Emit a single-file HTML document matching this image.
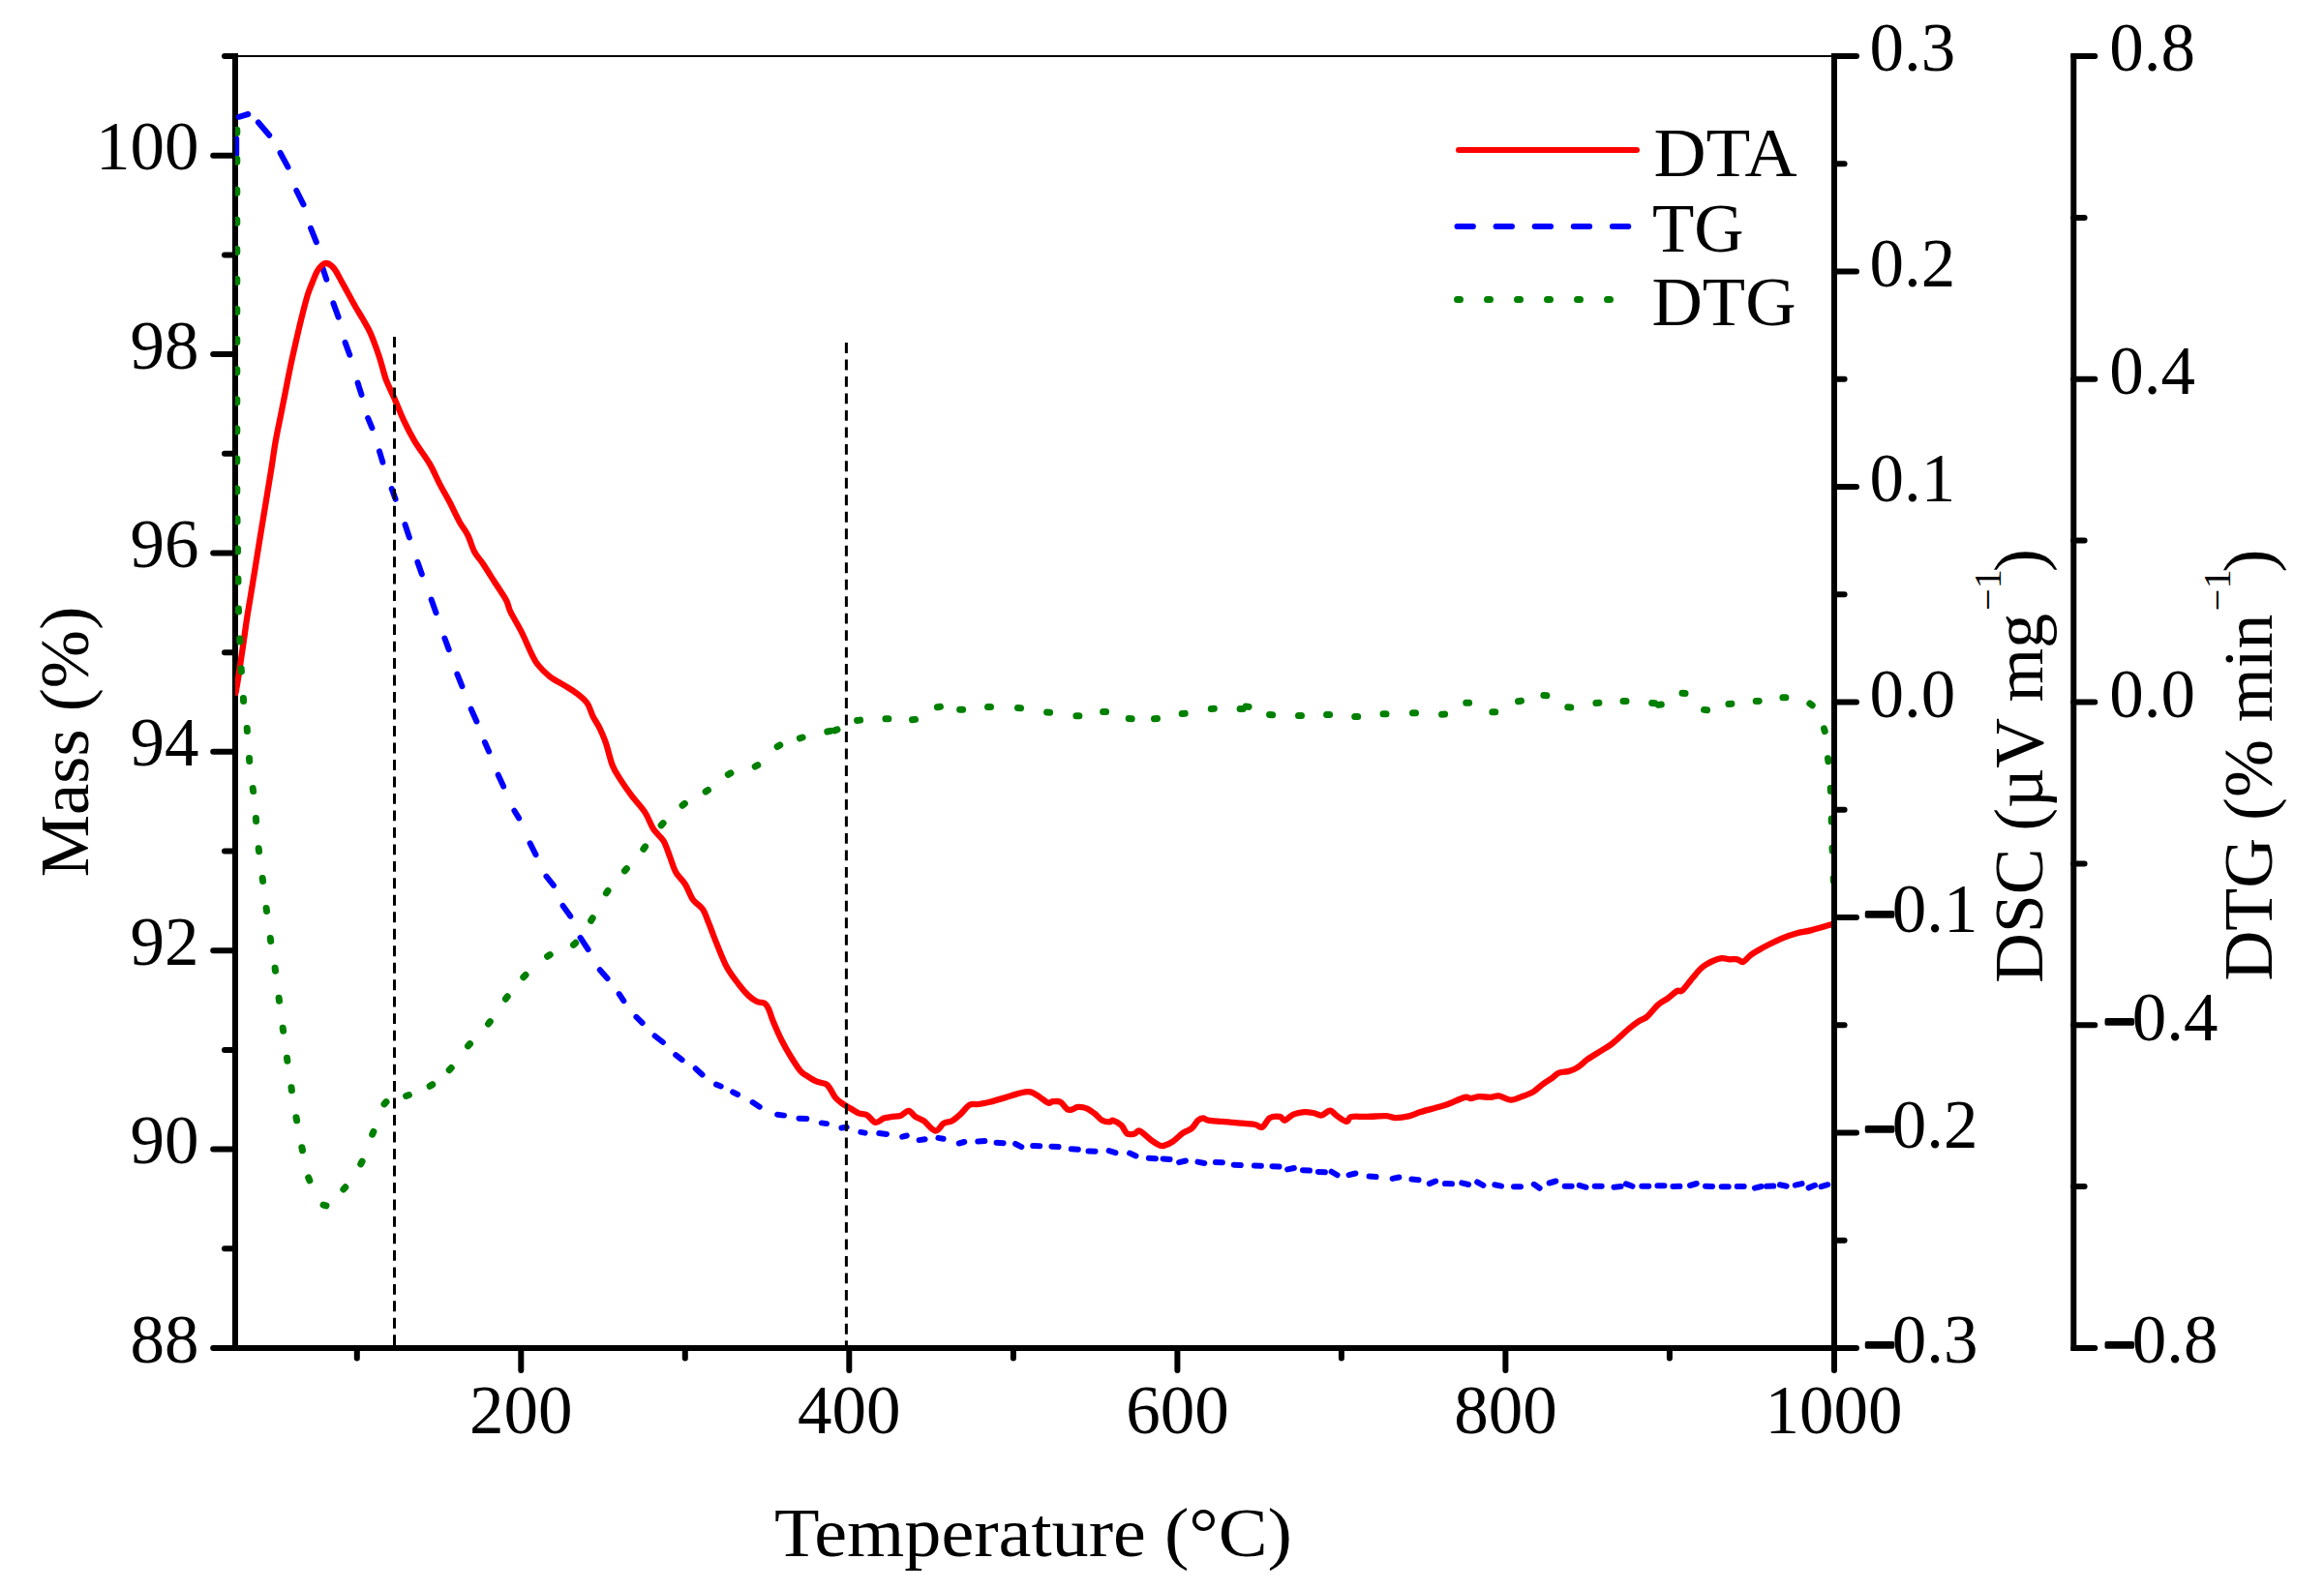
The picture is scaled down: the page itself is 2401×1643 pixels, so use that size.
<!DOCTYPE html>
<html lang="en"><head><meta charset="utf-8"><title>TG / DTG / DTA thermal analysis</title>
<style>html,body{margin:0;padding:0;background:#fff}svg{display:block}text{font-family:"Liberation Serif", serif;fill:#000}</style></head><body>
<svg width="2401" height="1643" viewBox="0 0 2401 1643">
<rect width="2401" height="1643" fill="#fff"/>
<defs><clipPath id="plot"><rect x="243" y="50" width="1655" height="1346"/></clipPath></defs>
<g stroke="#000" stroke-width="6" stroke-linecap="round" fill="none">
<path d="M220.2 1393H243M232 1290.3H243M220.2 1187.6H243M232 1084.9H243M220.2 982.2H243M232 879.5H243M220.2 776.8H243M232 674.2H243M220.2 571.5H243M232 468.8H243M220.2 366.1H243M232 263.4H243M220.2 160.7H243M232 58H243"/>
<path d="M368.8 1393V1403.6M538.3 1393V1416M707.8 1393V1403.6M877.3 1393V1416M1046.9 1393V1403.6M1216.4 1393V1416M1385.9 1393V1403.6M1555.4 1393V1416M1724.9 1393V1403.6M1895 1393V1416"/>
</g>
<path d="M243 58H1895" stroke="#000" stroke-width="2" fill="none"/>
<path d="M243 55V1393H1898" stroke="#000" stroke-width="6" fill="none" stroke-linejoin="miter"/>
<g clip-path="url(#plot)" fill="none" stroke-linecap="round" stroke-linejoin="round">
<path stroke="#0000ff" stroke-width="6" d="M244.2 159.5L244.2 143.5M246.8 120.8L256.3 118M266.9 126.5L278.2 139.7M289.6 158L297.5 172.7M306.3 197L313.5 211.4M321.1 235.8L326.8 250.1M332.7 274.9L337.3 288.7M344.4 313.4L349.6 327.6M356.6 353.9L361.3 366.7M369.6 395.6L373.5 407.9M380.2 432.1L384.4 442.2M392 466.3L395.4 477.7M404.7 505L408.6 515.8M418.5 542L422.9 555.4M431.4 580.8L435.8 593.3M445.6 619.6L450.5 633.2M459.4 659.5L463.7 671.1M472.4 696.6L477.4 709.1M486.7 732.7L492.4 745.4M500.9 767.1L505.1 776.4M514.7 800.7L520.1 812.6M531.4 837.7L536.1 845.4M547.6 871.4L553.5 883.2M564.5 905.7L571.9 914.9M581.6 936L589.3 946.7M599.6 968.9L607.6 981.1M619.8 1002.3L627.5 1011.1M639.7 1027.1L644.3 1034.2M657.4 1050.9L663.6 1057M676.6 1070.5L684.9 1077M698.2 1090.2L704.6 1095.2M718.7 1104.2L725.5 1110.5M740 1120.6L744.7 1122.5M757.1 1128.5L762.1 1131M777.6 1139.1L784.7 1143.7M803.1 1151.7L810 1152.6M825.5 1155.7L833.3 1156M848.8 1160.4L854 1161.1M869.4 1165.5L874.7 1164.7M889.3 1169.9L893.6 1170.6M908.2 1171L916 1171.9M932.2 1174.7L936.8 1173.5M949.6 1178.1L955.6 1177.2M969.4 1175.9L974.6 1176.7M990.8 1181.5L996.3 1180M1010.3 1179.6L1017.3 1179M1029.6 1180.8L1036.6 1181.2M1049.1 1182L1055.3 1185.2M1067.2 1184L1074.2 1184.2M1086.5 1184.7L1093.5 1185.1M1106.8 1187.2L1113.8 1187.8M1124.5 1189.5L1131.5 1189.7M1145.7 1189.1L1152.5 1191.1M1167.1 1191.6L1173.5 1194.4M1186.9 1196.7L1193.9 1197.3M1201.6 1197.4L1208.6 1198M1218.1 1201.1L1224.9 1199.5M1237.5 1200.6L1244.3 1202M1255.9 1201L1262.9 1201.2M1274.8 1203.7L1281.8 1204.1M1295.9 1204.5L1302.9 1204.7M1314.5 1205.2L1321.5 1205.6M1330.1 1208.4L1336.9 1207M1346 1209.2L1353 1209.6M1361.9 1210.9L1368.9 1211.3M1375.6 1210.7L1381.6 1214.3M1393.6 1214.1L1400.4 1212.5M1414.6 1215.6L1421.6 1216M1438.6 1217.9L1445.4 1216.5M1458.5 1218.6L1465.5 1219.2M1476.8 1223.1L1483.2 1220.5M1493 1223.1L1500 1223.3M1510.3 1222.4L1517.1 1224M1526.2 1221.5L1532.4 1224.9M1544.3 1224.2L1551.1 1225.6M1564 1226.3L1571 1226.3M1584.8 1223.8L1590.6 1227.8M1600.6 1222.5L1607.4 1220.5M1616.7 1225.8L1623.7 1225.8M1631.7 1224.8L1638.5 1226.8M1647.7 1225.8L1654.7 1225.8M1667.5 1226.7L1674.5 1226.1M1679.9 1223.4L1686.5 1225.8M1696.3 1225.8L1703.3 1225.8M1712.4 1225.2L1719.4 1225.2M1728.4 1226L1735.4 1225.8M1746 1225L1752.8 1223M1762 1225.7L1769 1225.9M1778.7 1226.2L1785.7 1226.2M1794.7 1226.1L1801.7 1226.1M1812.9 1227.6L1819.7 1226M1825.2 1225.8L1832.2 1225.6M1838.9 1224.3L1845.7 1225.7M1854.8 1224.7L1861.6 1223.1M1868.6 1227.4L1875 1224.8M1881.5 1226.2L1888.3 1224.2"/>
<path stroke="#ff0000" stroke-width="6.3" d="M243.5 716C244 713.1 245.1 707.5 246.4 698.9C247.7 690.3 249.9 675.3 251.5 664.5C253.1 653.7 254 646 255.9 634C257.8 622 260.6 605.9 262.7 592.7C264.8 579.5 266.9 566.2 268.8 554.7C270.7 543.2 272 535.5 273.9 523.7C275.8 511.9 278.6 495.3 280.4 484C282.2 472.7 283.1 465 284.7 456.1C286.2 447.2 288 439.3 289.7 430.9C291.4 422.5 293 414.2 294.7 405.8C296.4 397.4 297.9 389 299.7 380.6C301.4 372.2 303.3 363.9 305.2 355.5C307.1 347.1 309 338.7 311.1 330.3C313.2 321.9 315.8 311.5 317.7 305.2C319.6 298.9 320.8 296.7 322.4 292.6C324 288.5 325.9 283.6 327.6 280.5C329.3 277.4 331 275.4 332.6 274C334.2 272.6 335.4 271.9 337 272C338.6 272.1 340.4 273 342 274.3C343.6 275.6 344.9 276.9 346.9 280C348.9 283.1 351.5 288.4 353.8 292.6C356.1 296.8 358.5 301 360.8 305.2C363.1 309.4 365.3 313.5 367.7 317.7C370.1 321.9 372.8 326.1 375.2 330.3C377.6 334.5 380.1 338.7 382.1 342.9C384.1 347.1 385.6 351.3 387.2 355.5C388.8 359.7 390.2 363.9 391.6 368.1C393 372.3 394.1 376.4 395.3 380.6C396.6 384.8 397.1 388 399.1 393.2C401.1 398.4 404.5 404.9 407.5 411.7C410.5 418.5 413.6 426.8 417 434.1C420.4 441.4 423.8 448.1 428.2 455.6C432.6 463.1 439.4 471.6 443.7 478.9C448 486.2 450.6 493 454 499.6C457.4 506.2 460.9 512 464.4 518.6C467.8 525.2 471.5 533.5 474.7 539.2C477.9 544.9 480.7 547.8 483.3 553C485.9 558.2 487.6 565.4 490.2 570.3C492.8 575.2 495.4 577.1 498.8 582.3C502.2 587.5 506.9 595 510.9 601.3C514.9 607.6 520.3 615.1 523 620.2C525.7 625.3 524.7 626.6 527.3 632C529.9 637.4 534.9 645.3 538.5 652.4C542.1 659.5 545.9 669 548.8 674.8C551.7 680.5 552.5 682.9 555.7 686.9C558.9 690.9 563.2 695.3 567.8 698.9C572.4 702.5 578.7 705.5 583.3 708.4C587.9 711.3 591.5 713.2 595.4 716.2C599.3 719.2 603.7 722.5 606.6 726.5C609.5 730.5 610.5 736 612.6 740.3C614.8 744.6 617.3 747.8 619.5 752.4C621.7 757 623.8 761.5 626 768C628.2 774.5 630.4 785.1 632.9 791.3C635.4 797.5 637.4 799.9 640.7 805.1C644 810.3 648.4 816.6 652.7 822.4C657 828.1 662.8 833.9 666.5 839.6C670.2 845.3 671.9 851.9 675.1 856.8C678.3 861.7 682.6 864 685.5 868.9C688.4 873.8 690.2 880.6 692.4 886.1C694.5 891.6 695.8 897 698.4 901.6C701 906.2 705 909.1 707.9 913.7C710.8 918.3 712.6 924.9 715.6 929.2C718.6 933.5 723.3 935.6 726 939.6C728.7 943.6 730.2 949.1 732 953.3C733.8 957.5 735.1 961.3 736.5 965C737.9 968.7 738.2 969.7 740.6 975.5C743 981.3 747.3 992.7 751 999.6C754.7 1006.5 759.3 1012 763 1016.9C766.7 1021.8 770.2 1025.9 773.4 1028.9C776.6 1031.9 779.3 1033.7 782 1035C784.7 1036.3 787.8 1035.4 789.8 1036.7C791.8 1038 792.5 1039.4 794.1 1042.7C795.7 1046 796.9 1051 799.2 1056.5C801.5 1062 804.9 1069.8 807.8 1075.5C810.7 1081.2 813.3 1085.8 816.5 1091C819.7 1096.2 823.9 1103 826.8 1106.5C829.7 1110 830.8 1109.8 833.7 1111.7C836.6 1113.6 840.7 1116.3 844 1117.7C847.3 1119.1 851.2 1119 853.5 1120.3C855.8 1121.6 856.2 1123.1 857.8 1125.4C859.4 1127.7 861 1131.6 863 1134.1C865 1136.5 867.3 1138.2 869.9 1140.1C872.5 1142 875.6 1143.6 878.5 1145.3C881.4 1147 884.2 1149.2 887.1 1150.4C890 1151.6 892.8 1150.6 895.7 1152.2C898.6 1153.8 901.5 1159.3 904.4 1159.9C907.3 1160.5 910.1 1156.6 913 1155.6C915.9 1154.6 918.7 1154.3 921.6 1153.9C924.5 1153.5 927.3 1154 930.2 1153C933.1 1152 936.2 1147.6 938.8 1147.8C941.4 1148 943.1 1152.2 945.7 1153.9C948.3 1155.6 950.8 1155.8 954.3 1158.2C957.8 1160.6 962.9 1168.1 966.4 1168.5C969.9 1168.9 972.1 1162.5 975 1160.8C977.9 1159.1 980.7 1159.8 983.6 1158.2C986.5 1156.6 989.3 1154 992.3 1151.3C995.3 1148.6 998.6 1143.5 1001.7 1141.8C1004.9 1140.1 1007.8 1141.5 1011.2 1141C1014.7 1140.5 1017.9 1139.9 1022.4 1138.8C1026.8 1137.7 1032.7 1135.9 1037.9 1134.4C1043.1 1132.9 1049 1130.6 1053.4 1129.6C1057.9 1128.6 1061.1 1127.7 1064.6 1128.4C1068 1129.1 1071.1 1131.7 1074.1 1133.6C1077.1 1135.5 1080.4 1138.8 1082.7 1139.6C1085 1140.4 1085.8 1138.3 1087.9 1138.2C1090.1 1138.1 1093.2 1137.5 1095.6 1138.8C1098 1140.1 1100.5 1144.9 1102.5 1146.2C1104.5 1147.5 1105.8 1146.9 1107.7 1146.5C1109.6 1146.1 1111.1 1144.1 1113.7 1143.9C1116.3 1143.8 1120.3 1144.4 1123.2 1145.6C1126.1 1146.8 1128.4 1148.8 1131 1150.8C1133.6 1152.8 1136.1 1156.3 1138.7 1157.7C1141.3 1159.1 1144.6 1159.4 1146.5 1159.4C1148.4 1159.4 1147.9 1157.1 1149.9 1157.7C1151.9 1158.3 1156.1 1160.6 1158.6 1162.9C1161 1165.2 1162.3 1170.1 1164.6 1171.5C1166.9 1172.9 1170.1 1172 1172.3 1171.5C1174.5 1171 1174.6 1167.4 1177.5 1168.6C1180.4 1169.8 1186.1 1175.9 1189.6 1178.4C1193 1180.9 1195.9 1182.7 1198.2 1183.6C1200.5 1184.5 1201.1 1184.3 1203.4 1183.6C1205.7 1182.9 1208.8 1181.5 1212 1179.3C1215.2 1177.1 1219.1 1172.8 1222.3 1170.6C1225.5 1168.4 1228.3 1168.4 1230.9 1166.3C1233.5 1164.2 1235.8 1159.5 1237.8 1157.7C1239.8 1155.9 1241.3 1155.5 1243 1155.5C1244.7 1155.5 1245 1157.1 1248.2 1157.7C1251.4 1158.3 1256.8 1158.5 1262 1158.9C1267.2 1159.3 1273.5 1159.8 1279.2 1160.3C1284.9 1160.8 1292.2 1161.3 1296.4 1162C1300.6 1162.7 1301.6 1165.8 1304.2 1164.6C1306.8 1163.4 1308.9 1156.9 1311.9 1155.1C1314.9 1153.3 1319.7 1153.5 1322.3 1153.9C1324.9 1154.3 1325.1 1158.1 1327.4 1157.7C1329.7 1157.3 1332.8 1153.1 1336.1 1151.7C1339.4 1150.3 1343.9 1149.4 1347.3 1149.1C1350.7 1148.8 1353.7 1149.4 1356.7 1150C1359.7 1150.6 1362.5 1152.9 1365.4 1152.5C1368.3 1152.1 1371.3 1147.5 1374 1147.7C1376.7 1147.9 1378.8 1151.5 1381.7 1153.4C1384.6 1155.3 1388.8 1158.8 1391.2 1158.9C1393.6 1159 1392.7 1154.8 1396.2 1154C1399.7 1153.2 1406.4 1154.1 1412.4 1153.9C1418.4 1153.8 1427.3 1152.9 1432.2 1153.1C1437.1 1153.3 1437.8 1155 1441.7 1155.1C1445.6 1155.1 1451.2 1154.4 1455.5 1153.4C1459.8 1152.4 1463 1150.5 1467.6 1149.1C1472.2 1147.7 1478.5 1146.1 1483.1 1144.8C1487.7 1143.5 1490.1 1143.1 1495.1 1141.3C1500.1 1139.5 1509.2 1135 1513.2 1133.9C1517.2 1132.9 1516.8 1135.1 1519.3 1135C1521.8 1134.9 1524.5 1133.3 1527.9 1133.1C1531.3 1132.9 1536.5 1134 1539.9 1133.9C1543.4 1133.8 1545.1 1131.9 1548.6 1132.4C1552 1132.9 1556.9 1136.5 1560.6 1136.7C1564.3 1136.9 1567.1 1135 1571 1133.6C1574.9 1132.2 1580.2 1130.6 1583.9 1128.4C1587.6 1126.2 1590.1 1123.1 1593.4 1120.7C1596.7 1118.3 1600.8 1115.8 1603.7 1113.8C1606.6 1111.8 1607.7 1109.8 1610.6 1108.6C1613.5 1107.4 1617.7 1107.8 1620.9 1106.9C1624.1 1106 1626.4 1105.1 1629.6 1103.1C1632.8 1101.1 1636.2 1097.5 1639.9 1094.8C1643.6 1092.1 1648 1089.6 1652 1087.1C1656 1084.6 1660.3 1082.3 1664 1079.6C1667.7 1076.9 1671.2 1073.5 1674.4 1070.7C1677.6 1067.9 1679.8 1065.5 1683 1062.9C1686.2 1060.3 1690.1 1057.3 1693.3 1055.2C1696.5 1053.1 1698.6 1053.2 1701.9 1050.3C1705.2 1047.4 1709.6 1041.2 1713.2 1038.1C1716.8 1034.9 1720.2 1033.7 1723.4 1031.4C1726.6 1029.1 1730 1025.4 1732.5 1024.1C1735 1022.8 1735.5 1025.6 1738.1 1023.4C1740.7 1021.2 1744.9 1015 1748.3 1011C1751.7 1007 1754.9 1002.6 1758.5 999.6C1762.1 996.6 1766.5 994.5 1769.9 992.9C1773.3 991.3 1776.1 990.4 1778.9 990.1C1781.7 989.8 1784.2 991.1 1786.8 991.3C1789.4 991.5 1792.4 990.8 1794.8 991.3C1797.2 991.8 1798.7 994.7 1800.9 994C1803.2 993.3 1805.5 989.3 1808.3 987.2C1811 985.1 1814.4 983.3 1817.4 981.5C1820.4 979.7 1822.3 978.6 1826.5 976.5C1830.7 974.4 1837.4 971.1 1842.3 969.1C1847.2 967.1 1851 965.8 1855.9 964.5C1860.8 963.2 1865.6 962.7 1871.8 961.1C1878 959.5 1889.5 956 1893 955"/>
<path stroke="#008000" stroke-width="7" d="M244.8 134.2L244.8 137.2M244.8 164.3L244.8 167.3M244.8 196.2L244.8 199.2M244.8 227.2L244.8 230.2M244.8 257.4L244.8 260.4M244.8 288.4L244.8 291.4M244.8 319.4L244.8 322.4M244.8 350.5L244.8 353.5M244.8 381.8L244.8 384.8M244.8 412.8L244.8 415.8M244.8 442.9L244.8 445.9M244.8 474L244.8 477M244.8 505L244.8 508M245 536L245.1 539M245.5 567L245.5 570M245.9 598.1L246 601.1M246.4 629L246.5 632M247.7 660L247.9 663M249.2 690.9L249.4 693.9M251.4 721.6L251.6 724.6M255.2 752.6L255.4 755.6M257.5 783.6L257.7 786.6M261.2 814.6L261.6 817.6M264.4 845.6L264.6 848.6M267.2 876.7L267.6 879.7M271.2 907.5L271.6 910.5M275.1 938.5L275.5 941.5M279.3 969.5L279.7 972.5M284.1 1000.2L284.5 1003.2M288.1 1031.2L288.5 1034.2M292.2 1062.2L292.6 1065.2M296.5 1093.2L296.9 1096.2M301 1123.8L301.4 1126.8M306 1154.8L306.6 1157.8M311.9 1185.7L312.5 1188.7M318.7 1217L319.9 1219.8M334 1245.1L337 1245.9M354.8 1229L356.8 1226.8M372.7 1202.8L374.1 1200.2M384.7 1172.2L385.9 1169.4M397 1140.9L399 1138.7M419.6 1132.5L422.4 1131.5M444.1 1122.3L446.7 1120.7M464.2 1105.7L466.2 1103.5M483.5 1080.9L485.5 1078.7M504.5 1058L506.3 1055.6M522.4 1032.2L524.2 1029.8M540.8 1009.7L543 1007.5M565.6 988.2L568.2 986.6M592.5 976.3L594.7 974.3M610.6 951.3L612.2 948.7M626.4 922.9L628 920.5M645.4 899.8L647.4 897.6M664.8 877.3L666.6 874.9M683.1 852.8L685.1 850.6M705 832.2L707.4 830.4M729.1 818L731.5 816.4M752.3 800.3L754.9 798.9M780.2 792L782.8 790.6M803.1 771.5L805.7 769.9M826.3 762.8L829.1 762M854.8 756L857.8 755.4M862.2 754.9L865 753.9M885.6 744.5L888.6 744.1M914.9 742.7L917.9 742.7M942.5 743.8L945.5 743.4M968.4 730.7L971.4 730.3M991.6 733.3L994.6 733.3M1020.5 730.4L1023.5 730.4M1051.5 731.6L1054.5 731.8M1081.6 736.1L1084.6 736.3M1111.9 739.8L1114.9 739.8M1139.6 735.4L1142.6 735.4M1166.2 742.6L1169.2 742.8M1192.5 742.8L1195.5 742.6M1221.2 737.5L1224.2 737.3M1251.3 732.5L1254.3 732.3M1281.1 732.4L1284.1 732.4M1287.1 730L1290.1 730.4M1311.6 738.5L1314.6 738.7M1341.5 739.4L1344.5 739.4M1370.6 738.6L1373.6 738.6M1399.7 740.4L1402.7 740.4M1429 737.8L1432 737.8M1459.5 736.8L1462.5 736.8M1489.6 738.3L1492.6 738.1M1514.7 726.3L1517.7 726.3M1541.8 735.8L1544.8 735.8M1568.5 724.7L1571.5 724.3M1594.9 718.5L1597.9 718.7M1619.8 730.8L1622.8 731M1648.9 726.4L1651.9 726.2M1677 724.5L1680 724.5M1706.7 726.5L1709.7 726.7M1713.3 728.4L1716.3 728M1738 716.3L1741 716.5M1760.6 733.4L1763.6 733.8M1785.9 727.4L1788.9 727.2M1814.2 724.6L1817.2 724.4M1841.9 720.8L1844.9 720.8M1869.8 727L1872.2 728.8M1884.5 752.9L1885.3 755.7M1888.5 783.7L1888.9 786.7M1891.2 814.5L1891.4 817.5M1892.2 845.9L1892.2 848.9M1893 876.2L1893.2 879.2M1894.2 907.5L1894.4 910.5"/>
</g>
<g stroke="#000" stroke-width="3" stroke-dasharray="10.9 6.58" fill="none">
<path d="M407.5 348V1393"/>
<path d="M874.4 354V1393"/>
</g>
<g stroke="#000" stroke-width="6" stroke-linecap="round" fill="none">
<path d="M1895 1393H1918M1895 1281.8H1905.6M1895 1170.5H1918M1895 1059.2H1905.6M1895 948H1918M1895 836.8H1905.6M1895 725.5H1918M1895 614.2H1905.6M1895 503H1918M1895 391.7H1905.6M1895 280.5H1918M1895 169.2H1905.6M1895 58H1918"/>
<path d="M2142.3 1393H2164.3M2142.3 1226.1H2153.6M2142.3 1059.3H2164.3M2142.3 892.4H2153.6M2142.3 725.5H2164.3M2142.3 558.6H2153.6M2142.3 391.7H2164.3M2142.3 224.9H2153.6M2142.3 58H2164.3"/>
</g>
<path d="M1895 55V1396" stroke="#000" stroke-width="6" fill="none"/>
<path d="M2142.3 55V1396" stroke="#000" stroke-width="6" fill="none"/>
<path d="M1507 155H1691" stroke="#ff0000" stroke-width="6" stroke-linecap="round" fill="none"/>
<path d="M1505.5 234H1700" stroke="#0000ff" stroke-width="6" stroke-linecap="round" stroke-dasharray="16.4 23.7" fill="none"/>
<path d="M1505.5 309.5H1680" stroke="#008000" stroke-width="7" stroke-linecap="round" stroke-dasharray="3 28" fill="none"/>
<text x="205.5" y="1407.6" font-size="71" text-anchor="end">88</text>
<text x="205.5" y="1202.2" font-size="71" text-anchor="end">90</text>
<text x="205.5" y="996.8" font-size="71" text-anchor="end">92</text>
<text x="205.5" y="791.4" font-size="71" text-anchor="end">94</text>
<text x="205.5" y="586.1" font-size="71" text-anchor="end">96</text>
<text x="205.5" y="380.7" font-size="71" text-anchor="end">98</text>
<text x="205.5" y="175.3" font-size="71" text-anchor="end">100</text>
<text x="538.3" y="1480.5" font-size="71" text-anchor="middle">200</text>
<text x="877.3" y="1480.5" font-size="71" text-anchor="middle">400</text>
<text x="1216.4" y="1480.5" font-size="71" text-anchor="middle">600</text>
<text x="1555.4" y="1480.5" font-size="71" text-anchor="middle">800</text>
<text x="1894.6" y="1480.5" font-size="71" text-anchor="middle">1000</text>
<text y="1408.3" font-size="71"><tspan x="1925.6" dy="0.3" font-size="58" font-weight="bold" stroke="#000" stroke-width="3.6" stroke-linejoin="round">−</tspan><tspan x="1954.8" dy="-0.3">0.3</tspan></text>
<text y="1185.8" font-size="71"><tspan x="1925.6" dy="0.3" font-size="58" font-weight="bold" stroke="#000" stroke-width="3.6" stroke-linejoin="round">−</tspan><tspan x="1954.8" dy="-0.3">0.2</tspan></text>
<text y="963.3" font-size="71"><tspan x="1925.6" dy="0.3" font-size="58" font-weight="bold" stroke="#000" stroke-width="3.6" stroke-linejoin="round">−</tspan><tspan x="1954.8" dy="-0.3">0.1</tspan></text>
<text x="1931.5" y="740.8" font-size="71" text-anchor="start">0.0</text>
<text x="1931.5" y="518.3" font-size="71" text-anchor="start">0.1</text>
<text x="1931.5" y="295.8" font-size="71" text-anchor="start">0.2</text>
<text x="1931.5" y="73.3" font-size="71" text-anchor="start">0.3</text>
<text y="1408.3" font-size="71"><tspan x="2173.2" dy="0.3" font-size="58" font-weight="bold" stroke="#000" stroke-width="3.6" stroke-linejoin="round">−</tspan><tspan x="2202.8" dy="-0.3">0.8</tspan></text>
<text y="1074.6" font-size="71"><tspan x="2173.2" dy="0.3" font-size="58" font-weight="bold" stroke="#000" stroke-width="3.6" stroke-linejoin="round">−</tspan><tspan x="2202.8" dy="-0.3">0.4</tspan></text>
<text x="2179.3" y="740.8" font-size="71" text-anchor="start">0.0</text>
<text x="2179.3" y="407" font-size="71" text-anchor="start">0.4</text>
<text x="2179.3" y="73.3" font-size="71" text-anchor="start">0.8</text>
<text x="1708.5" y="182" font-size="71" text-anchor="start" textLength="148" lengthAdjust="spacingAndGlyphs">DTA</text>
<text x="1707" y="259.6" font-size="71" text-anchor="start">TG</text>
<text x="1706.5" y="336" font-size="71" text-anchor="start" textLength="149" lengthAdjust="spacingAndGlyphs">DTG</text>
<text x="1067.5" y="1608" font-size="71" text-anchor="middle" textLength="535" lengthAdjust="spacingAndGlyphs">Temperature (°C)</text>
<text transform="translate(90.6 766.5) rotate(-90) scale(1.02 1)" font-size="71" text-anchor="middle">Mass (%)</text>
<text transform="translate(2110.4 791.5) rotate(-90) scale(1.008 1)" font-size="71" text-anchor="middle">DSC (µV mg<tspan dy="-43" dx="3" font-size="40">−1</tspan><tspan dy="43" dx="-3">)</tspan></text>
<text transform="translate(2347.4 790.5) rotate(-90) scale(1.012 1)" font-size="71" text-anchor="middle">DTG (% min<tspan dy="-43" dx="3" font-size="40">−1</tspan><tspan dy="43" dx="-3">)</tspan></text>
</svg></body></html>
